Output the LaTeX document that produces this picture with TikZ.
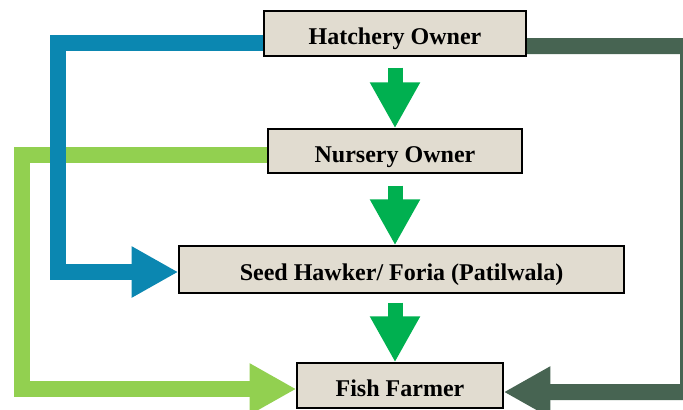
\documentclass[tikz,border=0pt]{standalone}
\usepackage{fontspec}
\setmainfont{Liberation Serif}
\usetikzlibrary{arrows.meta,backgrounds}
\definecolor{boxfill}{RGB}{225,220,208}
\definecolor{flowgreen}{RGB}{0,176,80}
\definecolor{hatchblue}{RGB}{11,135,177}
\definecolor{nursgreen}{RGB}{146,208,80}
\definecolor{darkgreen}{RGB}{71,100,82}
\tikzset{actor/.style={draw=black, line width=1.2pt, fill=boxfill, inner sep=0pt, text depth=0pt, text height=19.5pt,
    font=\fontsize{20.5}{24}\selectfont\bfseries},
  flow/.style={flowgreen, line width=0.45cm, -{Triangle[length=1.38cm,width=1.41cm]}},
  link/.style={line width=0.48cm, line join=miter, -{Triangle[length=1.4cm,width=1.44cm]}}}

\begin{document}
\begin{tikzpicture}[x=0.03cm, y=-0.03cm]
\useasboundingbox (0,0) rectangle (683,409);
\node[actor, minimum width=7.86cm, minimum height=1.35cm]  (1) at (395,33.5)    {Hatchery Owner};
\node[actor, minimum width=7.62cm, minimum height=1.32cm]  (2) at (395,151)     {Nursery Owner};
\node[actor, minimum width=13.35cm, minimum height=1.41cm] (3) at (401.5,269.5) {Seed Hawker/ Foria (Patilwala)};
\node[actor, minimum width=6.18cm, minimum height=1.35cm]  (4) at (400,385.5)   {Fish Farmer};

\coordinate (m1) at (2.south |- 3.north);
\coordinate (m2) at (2.south |- 3.south);
\coordinate (m3) at (2.south |- 4.north);
\coordinate (c1) at (58,272);
\coordinate (c2) at (22,389);
\coordinate (c3) at (688,392);

\draw[flow] ([yshift=-0.33cm]1.south) -- (2.north);
\draw[flow] ([yshift=-0.36cm]2.south) -- (m1);
\draw[flow] ([yshift=-0.27cm]m2) -- (m3);

\begin{pgfonlayer}{background}
\draw[link, nursgreen] ([yshift=-0.12cm]2.west)  -| (c2) -- ([yshift=-0.105cm]4.west);
\draw[link, hatchblue] ([yshift=-0.285cm]1.west) -| (c1) -- ([yshift=-0.075cm]3.west);
\draw[link, darkgreen] ([yshift=-0.375cm]1.east) -| (c3) -- ([yshift=-0.195cm]4.east);
\end{pgfonlayer}
\end{tikzpicture}
\end{document}
